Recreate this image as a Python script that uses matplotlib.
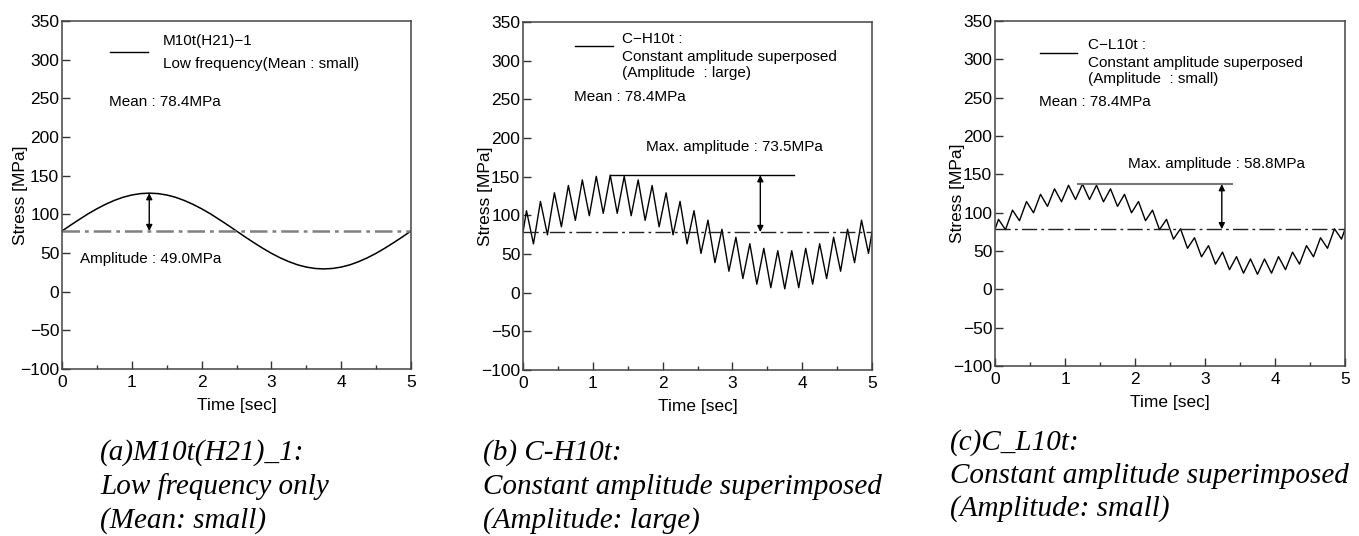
import numpy as np
import matplotlib
matplotlib.use('Agg')
import matplotlib.pyplot as plt

plt.rcParams['font.family'] = ['Liberation Sans', 'DejaVu Sans']

# ---- data ----
mean_stress = 78.4

# (a) low frequency only
t_low = [0.0, 0.125, 0.25, 0.375, 0.5, 0.625, 0.75, 0.875, 1.0, 1.125, 1.25,
         1.375, 1.5, 1.625, 1.75, 1.875, 2.0, 2.125, 2.25, 2.375, 2.5,
         2.625, 2.75, 2.875, 3.0, 3.125, 3.25, 3.375, 3.5, 3.625, 3.75,
         3.875, 4.0, 4.125, 4.25, 4.375, 4.5, 4.625, 4.75, 4.875, 5.0]
s_low = [78.4, 86.1, 93.5, 100.7, 107.2, 113.0, 118.0, 122.1, 125.0, 126.8, 127.4,
         126.8, 125.0, 122.1, 118.0, 113.0, 107.2, 100.7, 93.5, 86.1, 78.4,
         70.7, 63.3, 56.2, 49.6, 43.8, 38.8, 34.7, 31.8, 30.0, 29.4,
         30.0, 31.8, 34.7, 38.8, 43.8, 49.6, 56.2, 63.3, 70.7, 78.4]

# (b), (c) turning points of the superposed signals
t_zig = [0.0, 0.05, 0.15, 0.25, 0.35, 0.45, 0.55, 0.65, 0.75, 0.85, 0.95,
         1.05, 1.15, 1.25, 1.35, 1.45, 1.55, 1.65, 1.75, 1.85, 1.95,
         2.05, 2.15, 2.25, 2.35, 2.45, 2.55, 2.65, 2.75, 2.85, 2.95,
         3.05, 3.15, 3.25, 3.35, 3.45, 3.55, 3.65, 3.75, 3.85, 3.95,
         4.05, 4.15, 4.25, 4.35, 4.45, 4.55, 4.65, 4.75, 4.85, 4.95, 5.0]
s_large = [78.4, 106.0, 63.1, 118.0, 74.8, 129.2, 85.1, 138.6, 93.5, 145.8, 99.5,
           150.4, 102.5, 151.9, 102.5, 150.4, 99.5, 145.8, 93.5, 138.6, 85.1,
           129.2, 74.8, 118.0, 63.1, 106.0, 50.8, 93.7, 38.8, 82.0, 27.7,
           71.7, 18.2, 63.3, 11.0, 57.3, 6.4, 54.3, 4.9, 54.3, 6.4,
           57.3, 11.0, 63.3, 18.2, 71.7, 27.7, 82.0, 38.8, 93.7, 50.8, 78.4]
s_small = [78.4, 91.3, 77.8, 103.3, 89.5, 114.5, 99.8, 123.9, 108.2, 131.1, 114.2,
           135.7, 117.2, 137.2, 117.2, 135.7, 114.2, 131.1, 108.2, 123.9, 99.8,
           114.5, 89.5, 103.3, 77.8, 91.3, 65.5, 79.0, 53.5, 67.3, 42.4,
           57.0, 32.9, 48.6, 25.7, 42.6, 21.1, 39.6, 19.6, 39.6, 21.1,
           42.6, 25.7, 48.6, 32.9, 57.0, 42.4, 67.3, 53.5, 79.0, 65.5, 78.4]

amp_a = 49.0
max_b = 151.9
max_c = 137.2

fig = plt.figure(figsize=(13.59, 5.36), dpi=100)
W, H = 1359, 536

def make_axes(x0, x1, ytop, ybot):
    ax = fig.add_axes([x0 / W, 1 - ybot / H, (x1 - x0) / W, (ybot - ytop) / H])
    ax.set_xlim(0, 5)
    ax.set_ylim(-100, 350)
    ax.set_xticks([0, 1, 2, 3, 4, 5])
    ax.set_xticks([0.5, 1.5, 2.5, 3.5, 4.5], minor=True)
    ax.set_yticks(range(-100, 351, 50))
    ax.tick_params(which='both', direction='in', top=False, right=False,
                   labelsize=12.5, color='#333333')
    ax.tick_params(which='major', length=6, width=1)
    ax.tick_params(which='minor', length=3, width=1)
    ax.tick_params(axis='y', pad=2)
    ax.tick_params(axis='x', pad=4)
    for s in ax.spines.values():
        s.set_color('#444444')
        s.set_linewidth(1.1)
    ax.set_xlabel('Time [sec]', fontsize=12.5, labelpad=6)
    ax.set_ylabel('Stress [MPa]', fontsize=12.5)
    return ax

def dbl_arrow(ax, t, y0, y1):
    ax.annotate('', xy=(t, y1), xytext=(t, y0),
                arrowprops=dict(arrowstyle='<|-|>', color='black', lw=1,
                                mutation_scale=9, shrinkA=0, shrinkB=0))

fs = 11

# ---- (a) ----
ax1 = make_axes(62, 411, 21, 369)
ax1.yaxis.set_label_coords(-0.097, 0.5)
ax1.plot(t_low, s_low, color='black', lw=1.1)
ax1.axhline(mean_stress, color='#808080', lw=1.8, dashes=(7, 2, 1.5, 2))
dbl_arrow(ax1, 1.25, mean_stress, mean_stress + amp_a)
ax1.plot([0.69, 1.23], [310, 310], color='black', lw=1)
ax1.text(1.45, 324, 'M10t(H21)\u22121', fontsize=fs, va='center')
ax1.text(1.45, 294, 'Low frequency(Mean : small)', fontsize=fs, va='center')
ax1.text(0.67, 245, 'Mean : 78.4MPa', fontsize=fs, va='center')
ax1.text(0.26, 42, 'Amplitude : 49.0MPa', fontsize=fs, va='center')

# ---- (b) ----
ax2 = make_axes(523, 872, 22, 370)
ax2.yaxis.set_label_coords(-0.086, 0.5)
ax2.plot(t_zig, s_large, color='black', lw=1)
ax2.axhline(mean_stress, color='#222222', lw=1, dashes=(11, 3, 2, 3))
ax2.plot([1.25, 3.88], [max_b, max_b], color='black', lw=1)
dbl_arrow(ax2, 3.4, mean_stress, max_b)
ax2.plot([0.745, 1.29], [319, 319], color='black', lw=1)
ax2.text(1.42, 328, 'C\u2212H10t :', fontsize=fs, va='center')
ax2.text(1.42, 305, 'Constant amplitude superposed', fontsize=fs, va='center')
ax2.text(1.42, 284, '(Amplitude  : large)', fontsize=fs, va='center')
ax2.text(0.73, 253, 'Mean : 78.4MPa', fontsize=fs, va='center')
ax2.text(1.76, 188, 'Max. amplitude : 73.5MPa', fontsize=fs, va='center')

# ---- (c) ----
ax3 = make_axes(995, 1345, 21, 366)
ax3.yaxis.set_label_coords(-0.086, 0.5)
ax3.plot(t_zig, s_small, color='black', lw=1)
ax3.axhline(mean_stress, color='#222222', lw=1, dashes=(11, 3, 2, 3))
ax3.plot([1.19, 3.39], [max_c, max_c], color='#777777', lw=1.5)
dbl_arrow(ax3, 3.24, mean_stress, max_c)
ax3.plot([0.64, 1.17], [308, 308], color='black', lw=1)
ax3.text(1.33, 319, 'C\u2212L10t :', fontsize=fs, va='center')
ax3.text(1.33, 295, 'Constant amplitude superposed', fontsize=fs, va='center')
ax3.text(1.33, 274, '(Amplitude  : small)', fontsize=fs, va='center')
ax3.text(0.63, 244, 'Mean : 78.4MPa', fontsize=fs, va='center')
ax3.text(1.9, 163.5, 'Max. amplitude : 58.8MPa', fontsize=fs, va='center')

# ---- captions ----
cap_font = dict(family='Liberation Serif', style='italic', fontsize=21, va='baseline')
captions = [
    (100, [460, 494, 528], ['(a)M10t(H21)_1:', 'Low frequency only', '(Mean: small)']),
    (483, [460, 494, 528], ['(b) C-H10t:', 'Constant amplitude superimposed', '(Amplitude: large)']),
    (950, [450, 483, 516], ['(c)C_L10t:', 'Constant amplitude superimposed', '(Amplitude: small)']),
]
for x, ys, lines in captions:
    for y, line in zip(ys, lines):
        fig.text(x / W, 1 - y / H, line, **cap_font)

fig.savefig('out.png', dpi=100)
